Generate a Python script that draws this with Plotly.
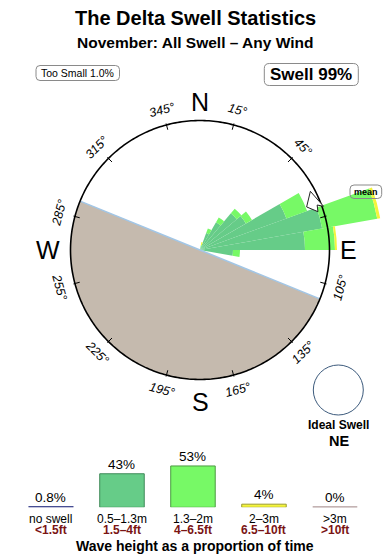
import math
import plotly.graph_objects as go

W, H = 390, 560
FONT = "Liberation Sans, Arial, Helvetica, sans-serif"

# ---------------- data ----------------
title = "The Delta Swell Statistics"
subtitle = "November: All Swell – Any Wind"
too_small_label = "Too Small 1.0%"
swell_label = "Swell 99%"
ideal_label = "Ideal Swell"
ideal_dir = "NE"

# rose: direction bins (bearing, deg) and stacked lengths per wave-height class
rose_theta = [15, 25, 35, 45, 55, 65, 75, 85, 95]
rose_small = [3, 18, 32, 48, 53, 92, 124, 105, 33]     # 0.5-1.3m
rose_medium = [2, 5, 5.5, 6, 7, 22, 56, 30, 7]         # 1.3-2m
rose_large = [3, 0, 0, 0, 0, 0, 3, 2, 0]               # 2-3m
sector_width = 10
mean_direction = 68
land_from, land_to = 112.2, 292.2
circle_r = 129.5
radial_max = 190

tick_angles = [15, 45, 75, 105, 135, 165, 195, 225, 255, 285, 315, 345]
label_angles = [15, 45, 105, 135, 165, 195, 225, 255, 285, 315, 345]
cardinal_labels = ["N", "E", "S", "W"]
cardinal_angles = [0, 90, 180, 270]

legend_pct = [0.8, 43, 53, 4, 0]
legend_pct_labels = ["0.8%", "43%", "53%", "4%", "0%"]
legend_m = ["no swell", "0.5–1.3m", "1.3–2m", "2–3m", ">3m"]
legend_ft = ["<1.5ft", "1.5–4ft", "4–6.5ft", "6.5–10ft", ">10ft"]
legend_title = "Wave height as a proportion of time"

# ---------------- styles ----------------
C_SMALL = "#66cc88"
C_MED = "#77f966"
C_LARGE = "#f4f43c"
C_LAND = "#c5baae"
C_COAST = "#a2c6e6"
legend_fill = ["#333a88", C_SMALL, C_MED, C_LARGE, "#b8a4a4"]
legend_line = ["#333a88", "#3f8a58", "#4b9a42", "#9a9a30", "#b8a4a4"]
RED = "#7a1414"

# polar geometry (pixels)
CX, CY, RPX = 200, 250, 190


def paper_xy(r, b):
    x = CX + r * RPX / radial_max * math.sin(math.radians(b))
    y = CY - r * RPX / radial_max * math.cos(math.radians(b))
    return x / W, 1 - y / H


def px(x, y):
    return x / W, 1 - y / H


fig = go.Figure()

# land half-disc
fig.add_trace(go.Barpolar(r=[circle_r], theta=[(land_from + land_to) / 2],
                          width=[land_to - land_from], marker=dict(color=C_LAND, line=dict(width=0)),
                          hoverinfo="skip", showlegend=False))
# coastline
fig.add_trace(go.Scatterpolar(r=[circle_r, 0, circle_r], theta=[land_from, land_from, land_to],
                              mode="lines", line=dict(color=C_COAST, width=1.5),
                              hoverinfo="skip", showlegend=False))
# swell bars
for vals, col in [(rose_small, C_SMALL), (rose_medium, C_MED), (rose_large, C_LARGE)]:
    fig.add_trace(go.Barpolar(r=vals, theta=rose_theta, width=[sector_width] * len(rose_theta),
                              marker=dict(color=col, line=dict(width=0)),
                              hoverinfo="skip", showlegend=False))
# outer circle
fig.add_trace(go.Scatterpolar(r=[circle_r] * 361, theta=list(range(361)), mode="lines",
                              line=dict(color="black", width=1.6),
                              hoverinfo="skip", showlegend=False))
# tick marks
tr, tt = [], []
for a in tick_angles:
    tr += [circle_r - 5, circle_r + 1.5, None]
    tt += [a, a, None]
fig.add_trace(go.Scatterpolar(r=tr, theta=tt, mode="lines", line=dict(color="black", width=1),
                              hoverinfo="skip", showlegend=False))
# mean direction arrow
m = mean_direction
arrow_r = [125, 131, 125.5, 124, 115, 125]
arrow_t = [m - 6, m + 2.5, m + 1, m + 4, m, m - 6]
fig.add_trace(go.Scatterpolar(r=arrow_r, theta=arrow_t, mode="lines", fill="toself",
                              fillcolor="white", line=dict(color="#222", width=1),
                              hoverinfo="skip", showlegend=False))

# legend bars
fig.add_trace(go.Bar(x=list(range(5)), y=legend_pct, width=0.627,
                     marker=dict(color=legend_fill, line=dict(color=legend_line, width=1)),
                     xaxis="x", yaxis="y", hoverinfo="skip", showlegend=False))
for i, v in enumerate(legend_pct):
    if v == 0:
        fig.add_trace(go.Scatter(x=[i - 0.313, i + 0.313], y=[0, 0], mode="lines",
                                 line=dict(color=legend_line[i], width=2),
                                 xaxis="x", yaxis="y", hoverinfo="skip", showlegend=False))

ann = []
# titles
ann.append(dict(text=f"<b>{title}</b>", x=0.5, y=px(0, 17.5)[1], font=dict(size=20)))
ann.append(dict(text=f"<b>{subtitle}</b>", x=0.5, y=px(0, 42.5)[1], font=dict(size=15.5)))
ann.append(dict(text=too_small_label, x=px(77.7, 0)[0], y=px(0, 73)[1], font=dict(size=10.5)))
ann.append(dict(text=f"<b>{swell_label}</b>", x=px(311.3, 0)[0], y=px(0, 74.5)[1], font=dict(size=17)))
ann.append(dict(text="<b>mean</b>", x=px(366, 0)[0], y=px(0, 191.7)[1], font=dict(size=9)))

# cardinal letters
for lab, a in zip(cardinal_labels, cardinal_angles):
    rr = 148 if a in (0, 90) else 152
    x, y = paper_xy(rr, a)
    ann.append(dict(text=lab, x=x, y=y, font=dict(size=25)))

# degree labels
for a in label_angles:
    if a < 90:
        ang = a
    elif a < 270:
        ang = a - 180
    else:
        ang = a - 360
    x, y = paper_xy(145, a)
    ann.append(dict(text=f"{a}°", x=x, y=y, textangle=ang, font=dict(size=12.5, style="italic")))

# ideal swell
ann.append(dict(text=f"<b>{ideal_label}</b>", x=px(338.8, 0)[0], y=px(0, 425)[1], font=dict(size=12)))
ann.append(dict(text=f"<b>{ideal_dir}</b>", x=px(338.8, 0)[0], y=px(0, 440.5)[1], font=dict(size=14.5)))

# legend labels
for i in range(5):
    ann.append(dict(text=legend_pct_labels[i], x=i, y=legend_pct[i], xref="x", yref="y",
                    yanchor="bottom", yshift=1, font=dict(size=13.5)))
    ann.append(dict(text=legend_m[i], x=i, y=px(0, 518.5)[1], xref="x", font=dict(size=12)))
    ann.append(dict(text=f"<b>{legend_ft[i]}</b>", x=i, y=px(0, 530)[1], xref="x",
                    font=dict(size=12, color=RED)))
ann.append(dict(text=f"<b>{legend_title}</b>", x=0.5, y=px(0, 545.5)[1], font=dict(size=14)))

for a in ann:
    a.setdefault("xref", "paper")
    a.setdefault("yref", "paper")
    a.setdefault("showarrow", False)
    a.setdefault("xanchor", "center")
    a.setdefault("yanchor", "middle")
    a.setdefault("borderpad", 0)
    f = a["font"]
    f.setdefault("family", FONT)
    f.setdefault("color", "black")


def rrect(x0, y0, x1, y1, r=4, color="#8a8a8a"):
    X = lambda x: x / W
    Y = lambda y: 1 - y / H
    p = (f"M{X(x0+r)},{Y(y0)} L{X(x1-r)},{Y(y0)} Q{X(x1)},{Y(y0)} {X(x1)},{Y(y0+r)} "
         f"L{X(x1)},{Y(y1-r)} Q{X(x1)},{Y(y1)} {X(x1-r)},{Y(y1)} L{X(x0+r)},{Y(y1)} "
         f"Q{X(x0)},{Y(y1)} {X(x0)},{Y(y1-r)} L{X(x0)},{Y(y0+r)} Q{X(x0)},{Y(y0)} {X(x0+r)},{Y(y0)} Z")
    return dict(type="path", xref="paper", yref="paper", path=p,
                line=dict(color=color, width=1), fillcolor="rgba(0,0,0,0)", layer="above")


shapes = [
    rrect(36, 65.5, 119.5, 80.5),
    rrect(264.3, 63.5, 358.3, 85.5, r=5),
    rrect(350, 185, 381.7, 198.5, r=4),
    dict(type="circle", xref="paper", yref="paper",
         x0=313.3 / W, x1=363.3 / W, y0=1 - 415 / H, y1=1 - 365 / H,
         line=dict(color="#3c5a7c", width=1)),
]

fig.update_layout(
    width=W, height=H, margin=dict(l=0, r=0, t=0, b=0),
    paper_bgcolor="white", plot_bgcolor="rgba(0,0,0,0)",
    showlegend=False,
    polar=dict(
        domain=dict(x=[(CX - RPX) / W, (CX + RPX) / W], y=[(H - CY - RPX) / H, (H - CY + RPX) / H]),
        bgcolor="rgba(0,0,0,0)", barmode="stack", bargap=0, hole=0,
        radialaxis=dict(range=[0, radial_max], visible=False),
        angularaxis=dict(rotation=90, direction="clockwise", visible=False),
    ),
    xaxis=dict(domain=[0, 1], range=[-0.718, 4.775], visible=False, fixedrange=True),
    yaxis=dict(domain=[52.7 / H, (52.7 + 62.4) / H], range=[0, 80], visible=False, fixedrange=True),
    annotations=ann,
    shapes=shapes,
)

fig.write_html("out.html")
